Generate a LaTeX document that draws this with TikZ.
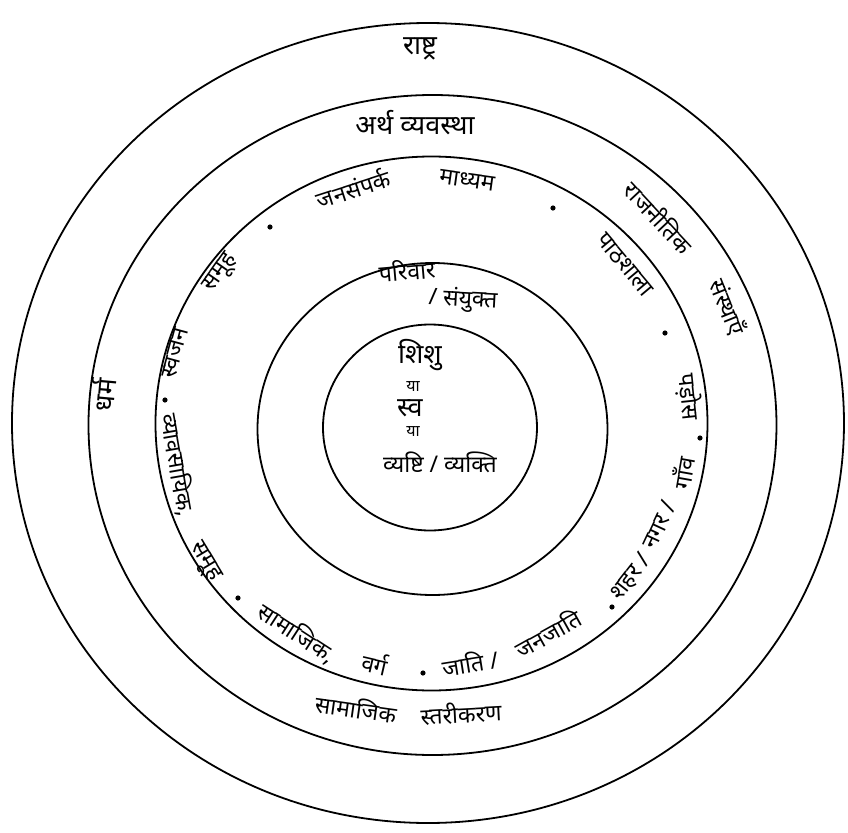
\documentclass[tikz,border=0pt]{standalone}
\usepackage{fontspec}
\setmainfont[Script=Devanagari]{Noto Sans}

\begin{document}
\begin{tikzpicture}[x=0.5pt,y=0.5pt,ring/.style={draw=black,line width=0.9pt},lbl/.style={font=\fontsize{11.5}{13}\selectfont,inner sep=0pt},big/.style={font=\fontsize{13.5}{15}\selectfont,inner sep=0pt},small/.style={font=\fontsize{8}{10}\selectfont,inner sep=0pt},sep/.style={circle,fill=black,inner sep=0pt,minimum size=2.6pt}]
\useasboundingbox (-431,-407) rectangle (417,425);
% the five rings
\draw[ring] (-1,-2.5) ellipse [x radius=107,y radius=103];
\draw[ring] (1.5,-4) ellipse [x radius=175,y radius=166];
\draw[ring] (0.5,1.5) ellipse [x radius=276,y radius=267];
\draw[ring] (1.5,0) ellipse [x radius=344,y radius=330];
\draw[ring] (-3,2) ellipse [x radius=416,y radius=400];
% outer rings
\node[big] (rastra) at (-11,376) {राष्ट्र};
\node[big] (artha) at (-16,302) {अर्थ व्यवस्था};
\node[lbl,rotate=-47] (rajniti) at (228,208) {राजनीतिक};
\node[lbl,rotate=-68] (sanstha) at (297,118) {संस्थाएँ};
\node[big,rotate=85] (dharm) at (-328,30) {धर्म};
\node[lbl,rotate=-8] (samaj) at (-75,-283) {सामाजिक};
\node[lbl,rotate=3] (star) at (30,-288) {स्तरीकरण};
% groups ring
\node[sep] (d1) at (-161,198) {};
\node[lbl,rotate=18] (jansampark) at (-78,237) {जनसंपर्क};
\node[lbl,rotate=-8] (madhyam) at (36,245) {माध्यम};
\node[sep] (d2) at (122,217) {};
\node[lbl,rotate=-50] (pathshala) at (194,160) {पाठशाला};
\node[sep] (d3) at (234,92) {};
\node[lbl,rotate=-84] (pados) at (258,28) {पड़ोस};
\node[sep] (d4) at (269,-13) {};
\node[lbl,rotate=80] (gaon) at (252,-48) {गाँव};
\node[lbl,rotate=65] (nagar) at (228,-100) {नगर /};
\node[lbl,rotate=52] (shahar) at (200,-152) {शहर /};
\node[sep] (d5) at (181,-182) {};
\node[lbl,rotate=29] (janjati) at (117,-208) {जनजाति};
\node[lbl,rotate=9] (jati) at (39,-238) {जाति /};
\node[sep] (d6) at (-8,-248) {};
\node[lbl,rotate=-13] (varg) at (-56,-238) {वर्ग};
\node[lbl,rotate=-33] (samajik) at (-134,-208) {सामाजिक,};
\node[sep] (d7) at (-193,-173) {};
\node[lbl,rotate=-59] (samuhb) at (-226,-137) {समूह};
\node[lbl,rotate=-80] (vyavasay) at (-253,-40) {व्यावसायिक,};
\node[sep] (d8) at (-266,25) {};
\node[lbl,rotate=75] (svajan) at (-256,72) {स्वजन};
\node[lbl,rotate=55] (samuha) at (-210,152) {समूह};
% family ring
\node[lbl,rotate=5] (parivar) at (-24,155) {परिवार};
\node[lbl,rotate=-3] (sanyukt) at (32,125) {/ संयुक्त};
% centre
\node[big] (shishu) at (-11,70) {शिशु};
\node[small] (ya1) at (-18,38) {या};
\node[big] (sva) at (-21,17) {स्व};
\node[small] (ya2) at (-18,-7) {या};
\node[lbl] (vyashti) at (9,-37) {व्यष्टि / व्यक्ति};
\end{tikzpicture}
\end{document}
